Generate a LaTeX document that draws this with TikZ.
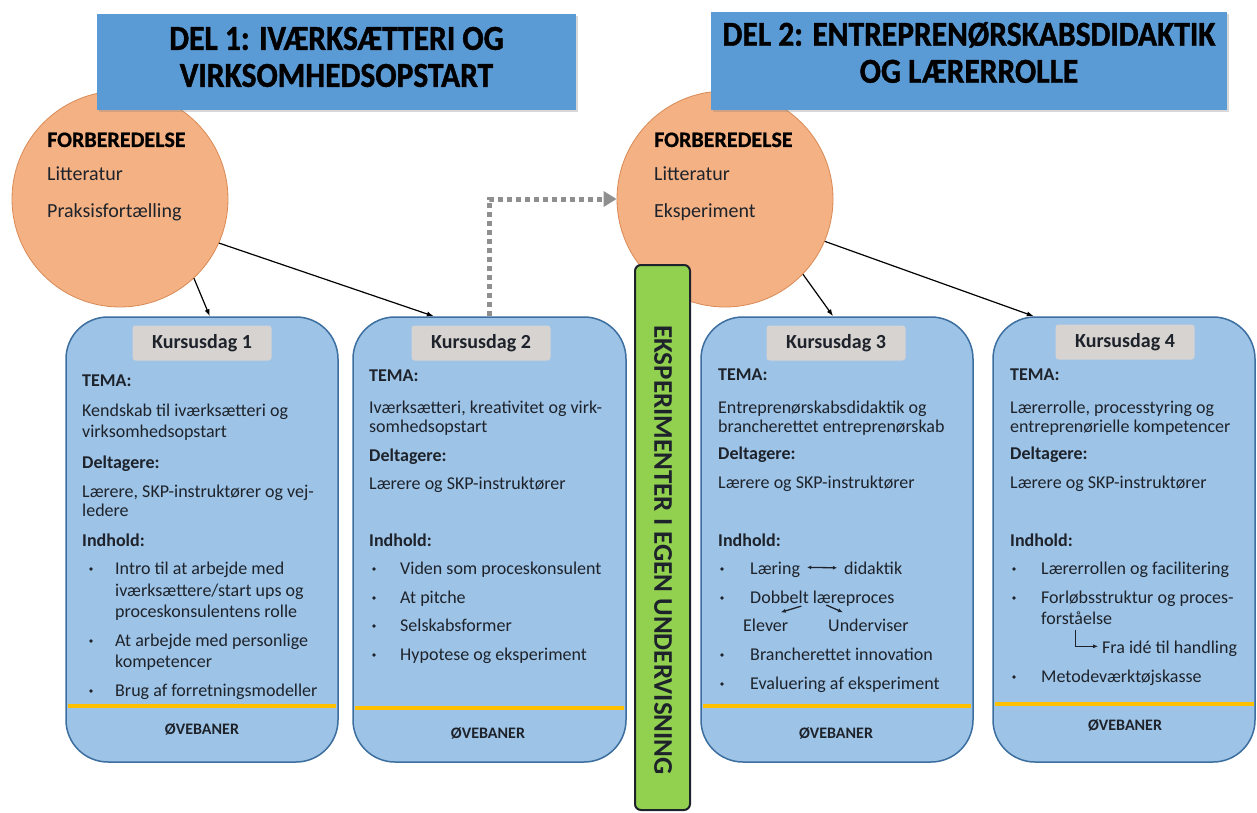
\documentclass[tikz,border=0pt]{standalone}
\usepackage{fontspec}
\setmainfont{Carlito}
\newfontfamily\headfont[FakeStretch=0.9,FakeBold=1.2]{Carlito}
\newfontfamily\forbfont[FakeBold=0.8]{Carlito}
\usepackage{tikz}
\usetikzlibrary{calc,arrows.meta,positioning,shadows}

\definecolor{boxfill}{HTML}{9DC3E6}
\definecolor{boxline}{HTML}{3C6E9F}
\definecolor{headfill}{HTML}{5B9BD5}
\definecolor{circfill}{HTML}{F4B183}
\definecolor{circline}{HTML}{D98A55}
\definecolor{greenfill}{HTML}{92D050}
\definecolor{labgrey}{HTML}{D6D3D0}
\definecolor{gulfarve}{HTML}{FFC000}
\definecolor{ink}{HTML}{1E232B}
\definecolor{prikgraa}{HTML}{8F8F8F}

\begin{document}
\begin{tikzpicture}[x=1pt,y=-1pt,
    txt/.style={anchor=base west,inner sep=0pt,text=ink,font=\fontsize{18}{21}\selectfont},
    btxt/.style={txt,font=\fontsize{18}{21}\selectfont\bfseries},
    circtxt/.style={anchor=base west,inner sep=0pt,text=ink,font=\fontsize{20}{23}\selectfont},
    forbtxt/.style={anchor=base west,inner sep=0pt,text=black,font=\forbfont\bfseries\fontsize{22}{25}\selectfont},
    daylbl/.style={fill=labgrey,rounded corners=3pt,minimum width=139pt,minimum height=35pt,inner sep=0pt,text=ink,font=\fontsize{20}{23}\selectfont\bfseries},
    ovtxt/.style={inner sep=0pt,text=ink,font=\fontsize{16}{19}\selectfont\bfseries},
    kurs/.style={draw=boxline,fill=boxfill,line width=1.5pt,rounded corners=42pt,minimum height=445pt,inner sep=0pt},
    forb/.style={circle,draw=circline,fill=circfill,line width=0.8pt,minimum size=216pt,inner sep=0pt},
    delbox/.style={fill=headfill,inner sep=0pt,drop shadow={shadow xshift=2pt,shadow yshift=-2pt,opacity=0.3}},
    deltxt/.style={align=center,inner sep=0pt,text=black,font=\headfont\bfseries\fontsize{35}{37}\selectfont},
    pil/.style={-{Latex[length=7pt,width=5pt]},line width=1.2pt,black},
    smallpil/.style={-{Latex[length=5pt,width=4pt]},line width=1.3pt,ink},
    gul/.style={draw=gulfarve,line width=4pt}]

\fill[white] (0,0) rectangle (1257,813);
\useasboundingbox (0,0) rectangle (1257,813);

% forberedelse
\node[forb] (c1) at (120,199) {};
\node[forb] (c2) at (725,199) {};

% overskrifter
\node[delbox,minimum width=479pt,minimum height=96pt] (del1) at (336.5,62) {};
\node[deltxt] (del1t) at (336.5,57) {DEL 1: IVÆRKSÆTTERI OG\\VIRKSOMHEDSOPSTART};
\node[delbox,minimum width=516pt,minimum height=98pt] (del2) at (969,61) {};
\node[deltxt] (del2t) at (969,52.5) {DEL 2: ENTREPRENØRSKABSDIDAKTIK\\OG LÆRERROLLE};

\node[forbtxt] (fb1) at (47,147) {FORBEREDELSE};
\node[circtxt] (lit1) at (47,180) {Litteratur};
\node[circtxt] (prak1) at (47,217) {Praksisfortælling};
\node[forbtxt] (fb2) at (654,147) {FORBEREDELSE};
\node[circtxt] (lit2) at (654,180) {Litteratur};
\node[circtxt] (eks2) at (654,217) {Eksperiment};

% kursusdage
\node[kurs,minimum width=272pt] (box1) at (202,539.5) {};
\node[kurs,minimum width=273pt] (box2) at (489.5,539.5) {};
\node[kurs,minimum width=272pt] (box3) at (837,539.5) {};
\node[kurs,minimum width=262pt] (box4) at (1124,539.5) {};

% eksperimenter
\node[draw=ink,fill=greenfill,line width=2pt,rounded corners=6pt,minimum width=55pt,minimum height=545pt] (eksp) at (662.5,537.5) {};
\node[rotate=-90,inner sep=0pt,text=ink,font=\fontsize{27}{30}\selectfont\bfseries] (eksptxt) at (663,550) {EKSPERIMENTER I EGEN UNDERVISNING};

\draw[pil] (c1.-47) -- (box1.88.5);
\draw[pil] (c1.-24) -- (box2.104);
\draw[pil] (c2.-44) -- (box3.91.3);
\draw[pil] (c2.-23) -- (box4.112.2);
\draw[prikgraa,line width=5pt,dash pattern=on 5pt off 4pt,-{Triangle[length=13pt,width=15pt]}] (box2.north) |- (c2.west);

% dag 1
\node[daylbl] (lab1) at (202,343) {Kursusdag 1};
\node[btxt] (tema1) at (82,386) {TEMA:};
\node[txt] (k1a) at (82,416) {Kendskab til iværksætteri og};
\node[txt] (k1b) at (82,437) {virksomhedsopstart};
\node[btxt] (dlt1) at (82,468) {Deltagere:};
\node[txt] (p1a) at (82,497) {Lærere, SKP-instruktører og vej-};
\node[txt] (p1b) at (82,516) {ledere};
\node[btxt] (ind1) at (82,546) {Indhold:};
\node[txt] (i1a) at (115,574) {Intro til at arbejde med};
\node[txt] (i1b) at (115,596) {iværksættere/start ups og};
\node[txt] (i1c) at (115,617) {proceskonsulentens rolle};
\node[txt] (i1d) at (115,646) {At arbejde med personlige};
\node[txt] (i1e) at (115,667) {kompetencer};
\node[txt] (i1f) at (115,696) {Brug af forretningsmodeller};
\fill[ink] (91,569) circle (1.8) (91,641) circle (1.8) (91,691) circle (1.8);
\draw[gul] (68,706) -- (336,706);
\node[ovtxt] (ov1) at (202,729) {ØVEBANER};

% dag 2
\node[daylbl] (lab2) at (481,343) {Kursusdag 2};
\node[btxt] (tema2) at (369,381) {TEMA:};
\node[txt] (k2a) at (369,413) {Iværksætteri, kreativitet og virk-};
\node[txt] (k2b) at (369,432) {somhedsopstart};
\node[btxt] (dlt2) at (369,461) {Deltagere:};
\node[txt] (p2a) at (369,489) {Lærere og SKP-instruktører};
\node[btxt] (ind2) at (369,546) {Indhold:};
\node[txt] (i2a) at (400,574) {Viden som proceskonsulent};
\node[txt] (i2b) at (400,603) {At pitche};
\node[txt] (i2c) at (400,631) {Selskabsformer};
\node[txt] (i2d) at (400,660) {Hypotese og eksperiment};
\fill[ink] (374,569) circle (1.8) (374,598) circle (1.8) (374,626) circle (1.8) (374,655) circle (1.8);
\draw[gul] (355,708) -- (624,708);
\node[ovtxt] (ov2) at (488,733) {ØVEBANER};

% dag 3
\node[daylbl] (lab3) at (836,343) {Kursusdag 3};
\node[btxt] (tema3) at (718,380) {TEMA:};
\node[txt] (k3a) at (718,413) {Entreprenørskabsdidaktik og};
\node[txt] (k3b) at (718,432) {brancherettet entreprenørskab};
\node[btxt] (dlt3) at (718,459) {Deltagere:};
\node[txt] (p3a) at (718,488) {Lærere og SKP-instruktører};
\node[btxt] (ind3) at (718,546) {Indhold:};
\node[txt] (laer3) at (750,574) {Læring};
\node[txt] (did3) at (844,574) {didaktik};
\node[txt] (dob3) at (750,603) {Dobbelt læreproces};
\node[txt] (elev3) at (743,631) {Elever};
\node[txt] (und3) at (828,631) {Underviser};
\node[txt] (bra3) at (750,660) {Brancherettet innovation};
\node[txt] (eva3) at (750,689) {Evaluering af eksperiment};
\fill[ink] (722,569) circle (1.8) (722,598) circle (1.8) (722,655) circle (1.8) (722,684) circle (1.8);
\draw[{Latex[length=4pt,width=4pt]}-{Latex[length=4pt,width=4pt]},line width=1.3pt,ink] ($(laer3.east)+(7,-2)$) -- ($(did3.west)+(-7,0)$);
\draw[smallpil] ($(dob3.south)+(-21,0)$) -- ($(elev3.north)+(15,-6)$);
\draw[smallpil] ($(dob3.south)+(4,-1)$) -- ($(und3.north west)+(15,-6)$);
\draw[gul] (703,706) -- (971,706);
\node[ovtxt] (ov3) at (836,733) {ØVEBANER};

% dag 4
\node[daylbl] (lab4) at (1125,342) {Kursusdag 4};
\node[btxt] (tema4) at (1010,380) {TEMA:};
\node[txt] (k4a) at (1010,413) {Lærerrolle, processtyring og};
\node[txt] (k4b) at (1010,432) {entreprenørielle kompetencer};
\node[btxt] (dlt4) at (1010,459) {Deltagere:};
\node[txt] (p4a) at (1010,488) {Lærere og SKP-instruktører};
\node[btxt] (ind4) at (1010,546) {Indhold:};
\node[txt] (l4a) at (1041,574) {Lærerrollen og facilitering};
\node[txt] (l4b) at (1041,603) {Forløbsstruktur og proces-};
\node[txt] (l4c) at (1041,624) {forståelse};
\node[txt] (fra4) at (1102,653) {Fra idé til handling};
\node[txt] (met4) at (1041,682) {Metodeværktøjskasse};
\fill[ink] (1014,569) circle (1.8) (1014,598) circle (1.8) (1014,677) circle (1.8);
\draw[smallpil,line width=0.8pt] ($(l4c.south west)+(34,6)$) |- ($(fra4.west)+(-4,-2)$);
\draw[gul] (995,704) -- (1254,704);
\node[ovtxt] (ov4) at (1125,725) {ØVEBANER};

\end{tikzpicture}
\end{document}
